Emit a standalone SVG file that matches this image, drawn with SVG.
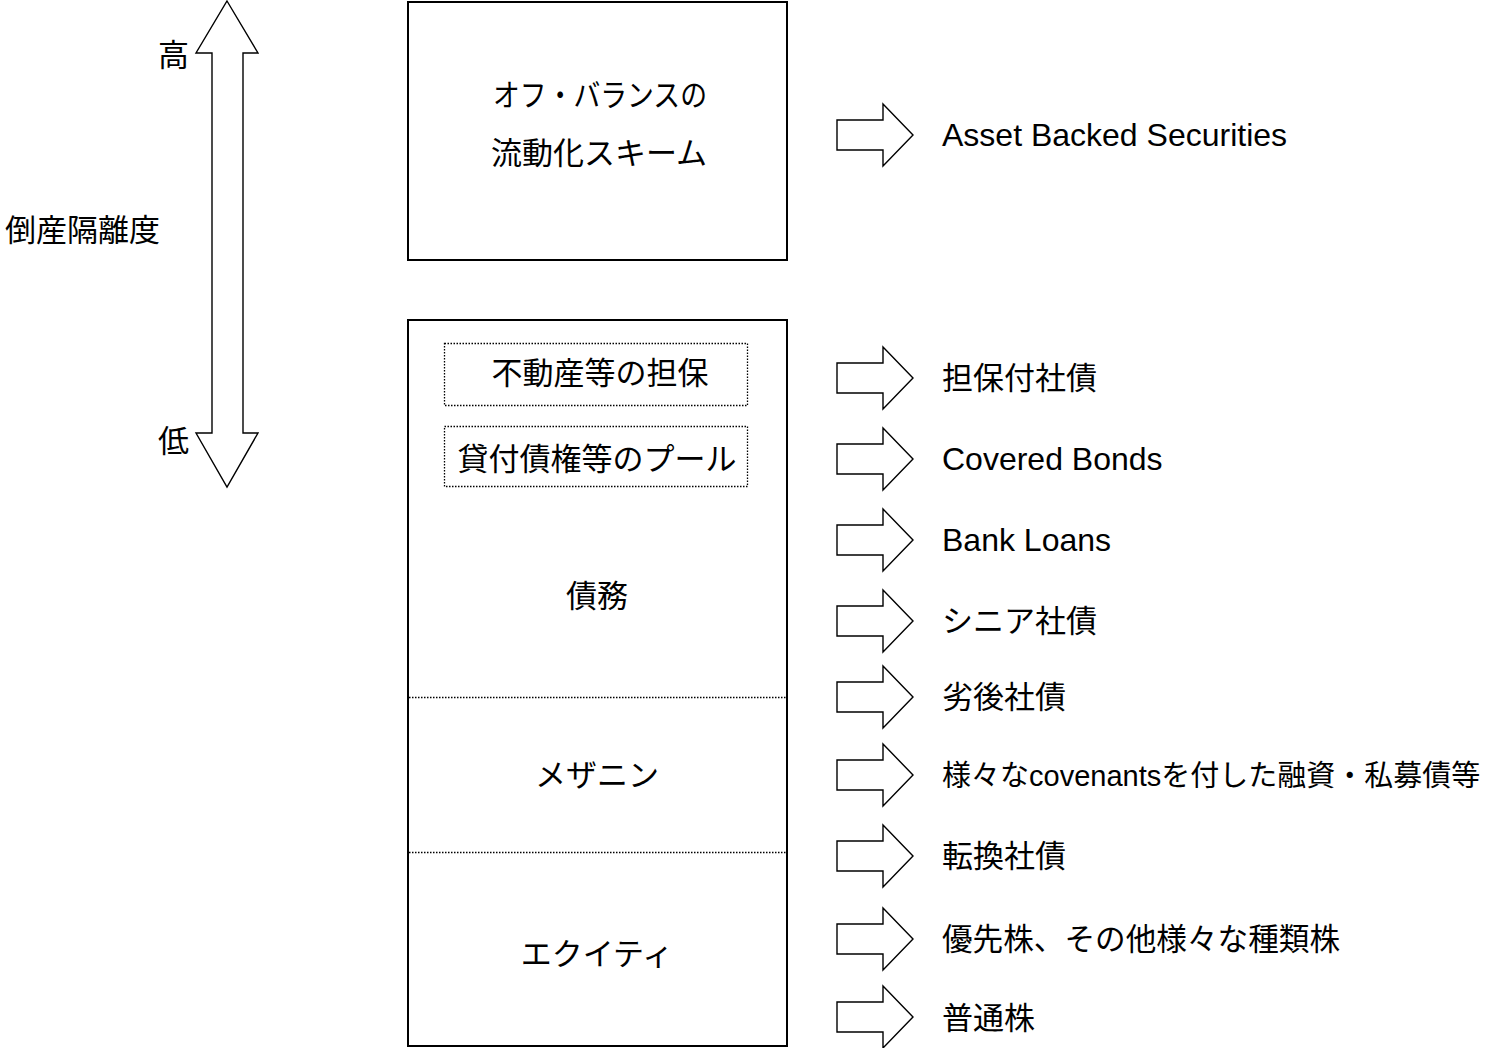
<svg xmlns="http://www.w3.org/2000/svg" xmlns:xlink="http://www.w3.org/1999/xlink" width="1503" height="1048" viewBox="0 0 1503 1048">
<style>
  text { font-family: "Liberation Sans", "Noto Sans CJK JP", sans-serif; font-size: 31px; fill: #000; }
  .lat { font-size: 32px; }
  .mid { text-anchor: middle; }
  .box { fill: #fff; stroke: #000; stroke-width: 2; }
  .dot { fill: none; stroke: #000; stroke-width: 1.3; stroke-dasharray: 1.5 1.5; }
  .arr { fill: #fff; stroke: #000; stroke-width: 1.4; stroke-linejoin: miter; }
</style>
<defs>
  <path id="ra" d="M837,-15 L883,-15 L883,-31 L913,0 L883,31 L883,15 L837,15 Z"/>
</defs>
<rect width="1503" height="1048" fill="#fff"/>

<g id="axis">
  <path class="arr" d="M227,1 L258,53 L243,53 L243,433 L258,433 L227,487 L196,433 L212,433 L212,53 L196,53 Z"/>
  <text x="158" y="66">高</text>
  <text x="158" y="452">低</text>
  <text x="5" y="241">倒産隔離度</text>
</g>

<g id="offbalance">
  <rect class="box" x="408" y="2" width="379" height="258"/>
  <text x="493" y="106" textLength="214" lengthAdjust="spacingAndGlyphs">オフ・バランスの</text>
  <text class="mid" x="599" y="164">流動化スキーム</text>
</g>

<g id="balance">
  <rect class="box" x="408" y="320" width="379" height="726"/>
  <line class="dot" x1="409" y1="697.5" x2="786" y2="697.5"/>
  <line class="dot" x1="409" y1="852.5" x2="786" y2="852.5"/>
  <g id="collateral">
    <rect class="dot" x="444.5" y="343.5" width="303" height="62"/>
    <text class="mid" x="600" y="384">不動産等の担保</text>
  </g>
  <g id="pool">
    <rect class="dot" x="444.5" y="426.5" width="303" height="60"/>
    <text class="mid" x="597" y="470">貸付債権等のプール</text>
  </g>
  <text id="debt" class="mid" x="597" y="607">債務</text>
  <text id="mezzanine" class="mid" x="597" y="786">メザニン</text>
  <text id="equity" class="mid" x="597" y="965">エクイティ</text>
</g>

<g id="connectors">
  <use class="arr" xlink:href="#ra" href="#ra" y="135"/>
  <use class="arr" xlink:href="#ra" href="#ra" y="378"/>
  <use class="arr" xlink:href="#ra" href="#ra" y="459"/>
  <use class="arr" xlink:href="#ra" href="#ra" y="540"/>
  <use class="arr" xlink:href="#ra" href="#ra" y="621"/>
  <use class="arr" xlink:href="#ra" href="#ra" y="697"/>
  <use class="arr" xlink:href="#ra" href="#ra" y="775"/>
  <use class="arr" xlink:href="#ra" href="#ra" y="856"/>
  <use class="arr" xlink:href="#ra" href="#ra" y="939"/>
  <use class="arr" xlink:href="#ra" href="#ra" y="1017"/>
</g>

<g id="instruments">
  <text class="lat" x="942" y="146">Asset Backed Securities</text>
  <text x="942" y="389">担保付社債</text>
  <text class="lat" x="942" y="470">Covered Bonds</text>
  <text class="lat" x="942" y="551">Bank Loans</text>
  <text x="942" y="632">シニア社債</text>
  <text x="942" y="708">劣後社債</text>
  <text x="942" y="786" style="font-size:29px">様々なcovenantsを付した融資・私募債等</text>
  <text x="942" y="867">転換社債</text>
  <text x="942" y="950" textLength="398" lengthAdjust="spacingAndGlyphs">優先株、その他様々な種類株</text>
  <text x="942" y="1029">普通株</text>
</g>
</svg>
